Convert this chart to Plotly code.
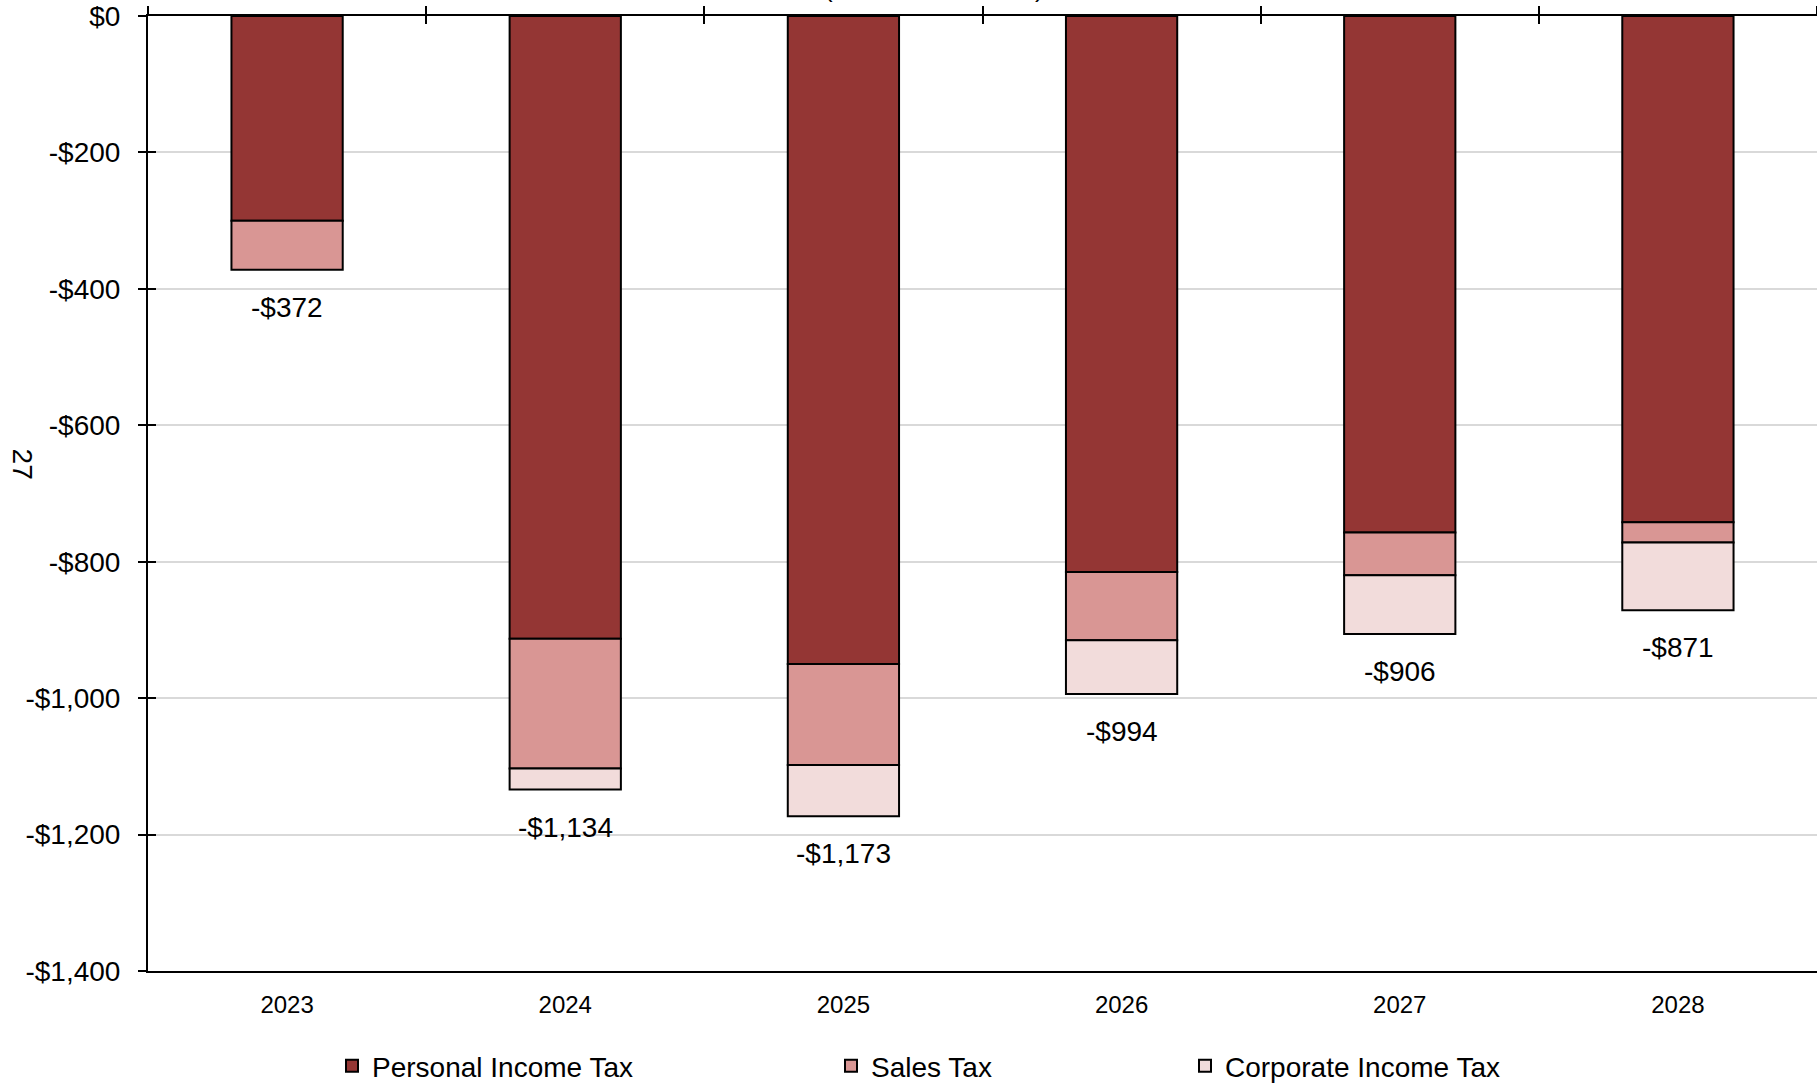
import plotly.graph_objects as go

# Revenue impact by tax type, millions of dollars (negative = revenue loss)
years = ["2023", "2024", "2025", "2026", "2027", "2028"]
personal_income_tax = [-300, -913, -950, -815, -757, -742]
sales_tax = [-72, -190, -148, -100, -63, -30]
corporate_income_tax = [0, -31, -75, -79, -86, -99]
totals = [-372, -1134, -1173, -994, -906, -871]

y_tick_vals = [0, -200, -400, -600, -800, -1000, -1200, -1400]
y_tick_text = ["$0", "-$200", "-$400", "-$600", "-$800", "-$1,000", "-$1,200", "-$1,400"]
boundaries = [-0.5, 0.5, 1.5, 2.5, 3.5, 4.5, 5.5]

FONT = "Arial, Liberation Sans, sans-serif"
colors = ["#943634", "#D99694", "#F2DCDB"]
series = [
    ("Personal Income Tax", personal_income_tax, "legend"),
    ("Sales Tax", sales_tax, "legend2"),
    ("Corporate Income Tax", corporate_income_tax, "legend3"),
]

fig = go.Figure()
for (name, vals, leg), col in zip(series, colors):
    fig.add_trace(go.Bar(
        x=years, y=vals, name=name, width=0.4,
        marker=dict(color=col, line=dict(color="black", width=2)),
        legend=leg, hoverinfo="x+y+name",
    ))

# empty traces so the overlay axes (cross ticks) get drawn
for xa, ya in [("x2", "y"), ("x3", "y"), ("x", "y2"), ("x", "y3")]:
    fig.add_trace(go.Scatter(x=[None], y=[None], xaxis=xa, yaxis=ya,
                             showlegend=False, hoverinfo="skip"))

# total labels under each stack (category index positions)
for i, tot in enumerate(totals):
    fig.add_annotation(x=i, y=tot, xref="x", yref="y",
                       text=f"-${abs(tot):,}", showarrow=False,
                       yanchor="top", yshift=-20,
                       font=dict(family=FONT, size=28, color="black"))

# page number and title line at the top
fig.add_annotation(x=-0.0857, y=0.5308, xref="paper", yref="paper",
                   text="27", textangle=90, showarrow=False,
                   font=dict(family=FONT, size=28, color="black"))
fig.add_annotation(x=(934 - 148) / 1669, y=1, xref="paper", yref="paper",
                   text="(Dollars in Millions)", showarrow=False,
                   xanchor="center", yanchor="bottom", yshift=11,
                   font=dict(family=FONT, size=26, color="black"))

yr_range = [-1400, 0]
common_y = dict(range=yr_range, tickvals=y_tick_vals, showgrid=False,
                zeroline=False, showticklabels=False, ticklen=8,
                tickwidth=2, tickcolor="black", fixedrange=True)
common_x2 = dict(type="linear", range=[-0.5, 5.5], tickvals=boundaries,
                 side="top", anchor="y", overlaying="x", showgrid=False,
                 zeroline=False, showticklabels=False, ticklen=8,
                 tickwidth=2, tickcolor="black", fixedrange=True)

legend_common = dict(orientation="h", yref="container", xref="container",
                     y=(1085 - 1066) / 1085, yanchor="middle",
                     xanchor="left", bgcolor="rgba(0,0,0,0)",
                     font=dict(family=FONT, size=28, color="black"))

fig.update_layout(
    width=1817, height=1085,
    margin=dict(l=148, r=0, t=16, b=114, autoexpand=False),
    paper_bgcolor="white", plot_bgcolor="white",
    barmode="relative",
    font=dict(family=FONT, color="black"),
    xaxis=dict(type="category", range=[-0.5, 5.5], showline=True,
               linecolor="black", linewidth=2, ticks="", showgrid=False,
               tickfont=dict(family=FONT, size=24, color="black"),
               ticklabelstandoff=11, fixedrange=True),
    xaxis2=dict(**common_x2, ticks="outside", showline=True,
                linecolor="black", linewidth=2),
    xaxis3=dict(**common_x2, ticks="inside", showline=False),
    yaxis=dict(range=yr_range, tickvals=y_tick_vals, ticktext=y_tick_text,
               showline=True, linecolor="black", linewidth=2,
               ticks="outside", ticklen=8, tickwidth=2, tickcolor="black",
               showgrid=True, gridcolor="#D9D9D9", gridwidth=2,
               zeroline=False, ticklabelstandoff=12,
               ticklabeloverflow="allow",
               tickfont=dict(family=FONT, size=28, color="black"),
               fixedrange=True),
    yaxis2=dict(**common_y, overlaying="y", anchor="x", side="left",
                ticks="inside"),
    yaxis3=dict(**common_y, overlaying="y", anchor="x", side="left",
                ticks=""),
    legend=dict(**legend_common, x=332 / 1817),
    legend2=dict(**legend_common, x=831 / 1817),
    legend3=dict(**legend_common, x=1185 / 1817),
    showlegend=True,
)

fig.write_html("out.html")
